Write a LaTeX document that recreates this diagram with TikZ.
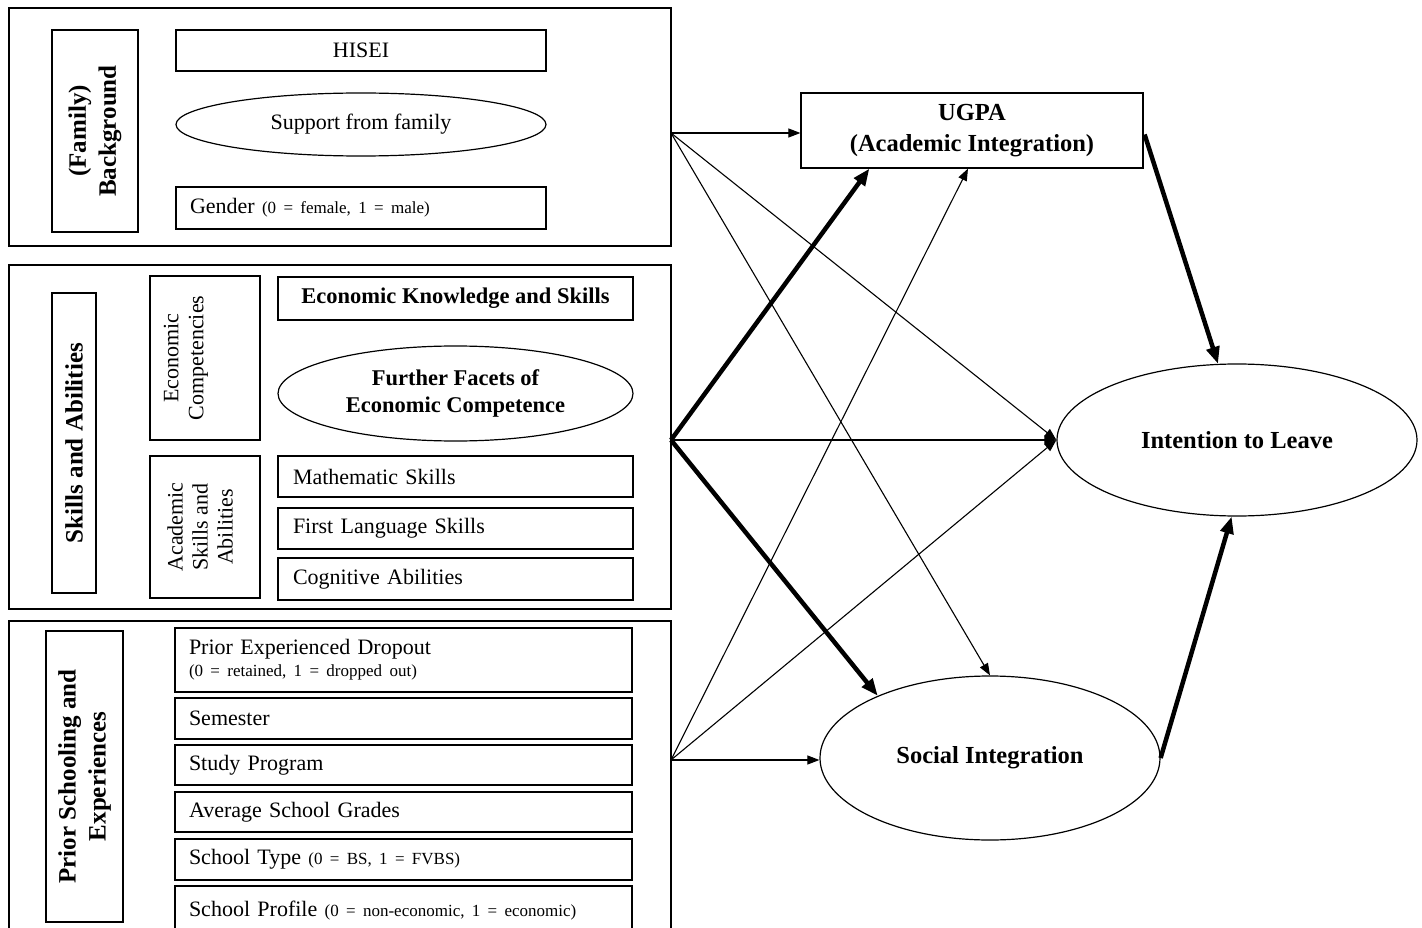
\documentclass[tikz,border=0pt]{standalone}
\usepackage{fontspec}
\setmainfont{Liberation Serif}
\usetikzlibrary{shapes.geometric,arrows.meta,calc}
\newcommand\rgF{\fontsize{22}{26}\selectfont}
\newcommand\smF{\fontsize{17}{20}\selectfont}
\newcommand\bfF{\fontsize{22.5}{27}\selectfont\bfseries}
\newcommand\tlF{\fontsize{24.5}{31}\selectfont\bfseries}
\newcommand\vlF{\fontsize{25}{30}\selectfont\bfseries}
\newcommand\vrF{\fontsize{22}{25}\selectfont}
\begin{document}
\begin{tikzpicture}[x=1pt,y=-1pt,
  grp/.style={draw, line width=1.3pt, inner sep=0pt},
  bx/.style={draw, line width=1.2pt, inner sep=0pt, font=\rgF},
  lbx/.style={bx, inner xsep=14pt, text width=#1, align=left},
  ell/.style={draw, ellipse, line width=1.2pt, inner sep=0pt},
  vlab/.style={draw, line width=1.2pt, inner sep=0pt, rotate=90, align=center, font=\vlF},
  vtxt/.style={inner sep=0pt, rotate=90, align=center, font=\vrF},
  thinarr/.style={line width=1.1pt, -{Triangle[length=12pt,width=9pt]}},
  thickarr/.style={line width=4.5pt, -{Triangle[length=17pt,width=13pt]}}
]
\useasboundingbox (0,0) rectangle (1422,928);
\fill[white] (0,0) rectangle (1422,928);
\clip (0,0) rectangle (1422,928);

% ---- group 1
\node[grp, minimum width=662pt, minimum height=238pt] (g1) at (340,127) {};
\node[vlab, minimum width=202pt, minimum height=86pt] (famlab) at (95,131) {(Family)\\Background};
\node[bx, minimum width=370pt, minimum height=41pt] (hisei) at (361,50.5) {HISEI};
\node[ell, minimum width=370pt, minimum height=63pt, font=\rgF] (support) at (361,124.5) {Support from family};
\node[lbx=342pt, minimum height=42pt] (gender) at (361,208) {Gender {\smF (0 = female, 1 = male)}};

% ---- group 2
\node[grp, minimum width=662pt, minimum height=344pt] (g2) at (340,437) {};
\node[vlab, minimum width=300pt, minimum height=44pt] (skilllab) at (74,443) {Skills and Abilities};
\node[draw, line width=1.2pt, minimum width=110pt, minimum height=164pt, inner sep=0pt] (ecolab) at (205,358) {};
\node[vtxt] (ecotxt) at (186,358) {Economic\\Competencies};
\node[draw, line width=1.2pt, minimum width=110pt, minimum height=142pt, inner sep=0pt] (acalab) at (205,527) {};
\node[vtxt] (acatxt) at (200,527) {Academic\\Skills and\\Abilities};
\node[bx, minimum width=355pt, minimum height=43pt, font=\bfF] (eks) at (455.5,298.5) {Economic Knowledge and Skills};
\node[ell, minimum width=355pt, minimum height=95pt, align=center, font=\bfF] (fff) at (455.5,393.5) {Further Facets of\\Economic Competence};
\node[lbx=325pt, inner xsep=15pt, minimum height=41pt] (math) at (455.5,476.5) {Mathematic Skills};
\node[lbx=325pt, inner xsep=15pt, minimum height=41pt] (lang) at (455.5,528.5) {First Language Skills};
\node[lbx=325pt, inner xsep=15pt, minimum height=42pt] (cog) at (455.5,579) {Cognitive Abilities};

% ---- group 3
\node[grp, minimum width=662pt, minimum height=319pt] (g3) at (340,780.5) {};
\node[vlab, minimum width=291pt, minimum height=77pt] (priorlab) at (84.5,776.5) {Prior Schooling and\\Experiences};
\node[lbx=429pt, minimum height=64pt] (dropout) at (403.5,660) {Prior Experienced Dropout\\[-4pt]{\smF (0 = retained, 1 = dropped out)}};
\node[lbx=429pt, minimum height=41pt] (semester) at (403.5,718.5) {Semester};
\node[lbx=429pt, minimum height=40pt] (study) at (403.5,765) {Study Program};
\node[lbx=429pt, minimum height=40pt] (avg) at (403.5,812) {Average School Grades};
\node[lbx=429pt, minimum height=41pt] (stype) at (403.5,859.5) {School Type {\smF (0 = BS, 1 = FVBS)}};
\node[lbx=429pt, minimum height=49pt] (sprof) at (403.5,910.5) {School Profile {\smF (0 = non-economic, 1 = economic)}};

% ---- outcomes
\node[bx, minimum width=342pt, minimum height=75pt, align=center, font=\tlF] (ugpa) at (972,130.5) {UGPA\\(Academic Integration)};
\node[ell, minimum width=360pt, minimum height=152pt, font=\tlF] (intent) at (1237,440) {Intention to Leave};
\node[ell, minimum width=340pt, minimum height=164pt, font=\tlF] (social) at (990,758) {Social Integration};

% ---- origins
\coordinate (c1) at (671,133);
\coordinate (c2) at (671,440);
\coordinate (c3) at (671,760);

% ---- connectors
\draw[thinarr] (c1) -- (c1 -| ugpa.west);
\draw[thinarr] (c1) -- (intent.west);
\draw[thinarr] (c1) -- (social.north);
\draw[thickarr] (c2) -- ($(ugpa.south west)+(69,0)$);
\draw[thinarr] (c2) -- (intent.west);
\draw[thickarr] (c2) -- (social.151);
\draw[thinarr] (c3) -- ($(ugpa.south)+(-4,0)$);
\draw[thinarr] (c3) -- (intent.west);
\draw[thinarr] (c3) -- (c3 -| social.west);
\draw[thickarr] ($(ugpa.east)+(1,4)$) -- (intent.104);
\draw[thickarr] (social.east) -- (intent.266);
\end{tikzpicture}
\end{document}
